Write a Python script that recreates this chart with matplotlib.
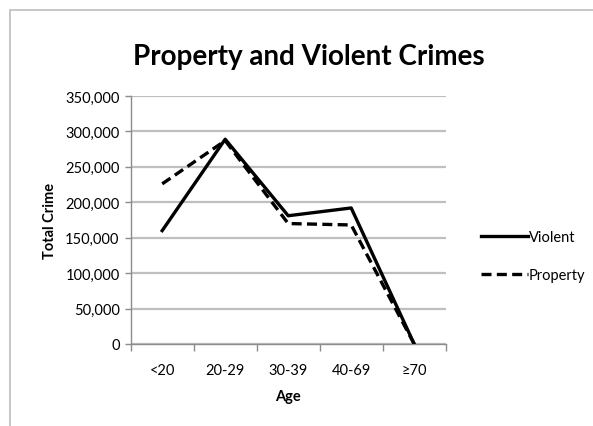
import matplotlib
matplotlib.use("Agg")
import matplotlib.pyplot as plt
from matplotlib.patches import Rectangle
from matplotlib.ticker import FuncFormatter, FixedLocator

# age groups and crime totals
ages = ['<20', '20-29', '30-39', '40-69', '≥70']
violent = [160000, 289000, 181000, 192000, 0]
property_crime = [226000, 287000, 170000, 168000, 0]
y_ticks = [0, 50000, 100000, 150000, 200000, 250000, 300000, 350000]

plt.rcParams['font.family'] = ['Lato', 'DejaVu Sans']

fig = plt.figure(figsize=(5.93, 4.27), dpi=100)
fig.patch.set_facecolor('white')

# gray chart frame
fig.patches.append(Rectangle((10 / 593, -0.1), 1.2, (427 - 11) / 427 + 0.1,
                             transform=fig.transFigure, fill=False,
                             edgecolor='#bdbdbd', linewidth=1.2))

ax = fig.add_axes([130.7 / 593, 82 / 427, 315 / 593, 248 / 427])
x = list(range(len(ages)))
ax.plot(x, violent, color='black', linewidth=2.4, label='Violent', zorder=3)
ax.plot(x, property_crime, color='black', linewidth=2.4, linestyle=(0, (3, 1.6)),
        label='Property', zorder=3)

ax.set_xlim(-0.5, len(ages) - 0.5)
ax.set_ylim(0, 350000)
ax.set_yticks(y_ticks)
ax.yaxis.set_major_formatter(FuncFormatter(lambda v, p: f'{int(v):,}'))
ax.set_xticks(x)
ax.set_xticklabels(ages)
ax.xaxis.set_minor_locator(FixedLocator([i - 0.5 for i in range(len(ages) + 1)]))
ax.tick_params(axis='x', which='major', length=0, pad=14, labelsize=10.5)
ax.tick_params(axis='x', which='minor', length=5, color='#8c8c8c', width=1)
ax.tick_params(axis='y', length=4, color='#8c8c8c', width=1, labelsize=10.5, pad=4)

ax.grid(axis='y', color='#bfbfbf', linewidth=1.6)
ax.set_axisbelow(True)
for side in ['top', 'right']:
    ax.spines[side].set_visible(False)
ax.spines['left'].set_color('#8c8c8c')
ax.spines['bottom'].set_color('#8c8c8c')
ax.spines['left'].set_linewidth(1)
ax.spines['bottom'].set_linewidth(1)

ax.set_xlabel('Age', fontsize=10.5, fontweight='bold', labelpad=8)
ax.set_ylabel('Total Crime', fontsize=10.5, fontweight='bold', labelpad=6)

fig.text(309 / 593, 1 - 57 / 427, 'Property and Violent Crimes', ha='center',
         va='center', fontsize=20, fontweight='bold')

ax.legend(loc='center left', bbox_to_anchor=(1.07, 0.355), frameon=False,
          handlelength=3.2, handletextpad=0.1, labelspacing=1.6, fontsize=10.5)

fig.savefig('out.png', dpi=100)
